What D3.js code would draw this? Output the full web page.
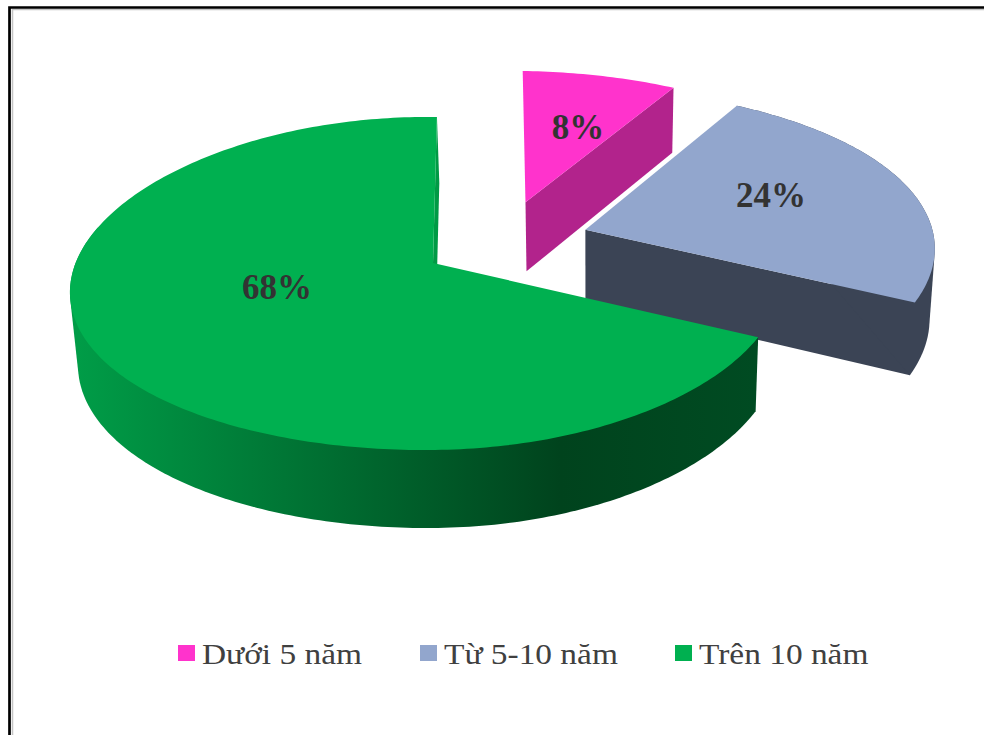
<!DOCTYPE html>
<html>
<head>
<meta charset="utf-8">
<script src="https://cdn.jsdelivr.net/npm/d3@7"></script>
<style>
    html, body { margin: 0; padding: 0; background: #fff; overflow: hidden; }
    svg { display: block; }
</style>
</head>
<body>
<div id="chart"></div>
<script>
const categories = ["Dưới 5 năm", "Từ 5-10 năm", "Trên 10 năm"];
const shares = [8, 24, 68];
const shareLabels = ["8%", "24%", "68%"];
const topColors = ["#ff33cc", "#92a6cd", "#00b050"];
const wallColors = ["#b2238c", "#3b4455", "url(#greenWall)"];

// how far each slice is pulled out, in pie radius units
const explodeX = [0.27, 0.44, 0];
const explodeY = [0.39, 0.21, 0];
const sliceRadius = [0.985, 1.03, 1];
const labelX = [578, 771, 277];
const labelY = [127, 195, 287];
const legendX = [178, 420, 675];

const width = 984, height = 735;

const svg = d3.select("#chart")
    .append("svg")
    .attr("width", width)
    .attr("height", height)
;

const grad = svg.append("defs").append("linearGradient")
    .attr("id", "greenWall")
    .attr("gradientUnits", "userSpaceOnUse")
    .attr("x1", 78).attr("x2", 757)
    .attr("y1", 0).attr("y2", 0)
;
grad.append("stop").attr("offset", 0).attr("stop-color", "#009c47");
grad.append("stop").attr("offset", 0.71).attr("stop-color", "#00431d");
grad.append("stop").attr("offset", 1).attr("stop-color", "#004b22");

// frame, runs off the right and bottom of the page
svg.append("path")
    .attr("d", "M12.5,740V9.5H990")
    .attr("fill", "none").attr("stroke", "#c4c4c4").attr("stroke-width", 1.5);
svg.append("path")
    .attr("d", "M9.5,740V7.5H990")
    .attr("fill", "none").attr("stroke", "#000").attr("stroke-width", 2.7);

// perspective of the pie plane
const cx = 433, cy = 263, rx = 355, ry = 164;
const perspX = 0.08, perspY = 0.123, perspSide = 0.019;

function project(px, py) {
    const sx = 1 / (1 + perspX * py + perspSide * px);
    const sy = 1 / (1 + perspY * py + perspSide * px);
    // left part of the rim hangs a bit lower in the picture
    const sag = px < 0 ? 16 * px * px : 0;
    return [cx + rx * px * sx, cy - ry * py * sy + sag];
}

// bottom face is the top face moved down and squeezed a bit
const bottomX = d3.scaleLinear().domain([70, 917]).range([78, 912]);
const bottomY = d3.scaleLinear().domain([88, 451]).range([153, 529]);
const toBottom = p => [bottomX(p[0]), bottomY(p[1])];

const line = d3.line();

// small turn so the green edge leans like the original
const turn = 0.012;
const pie = d3.pie().sort(null).value(d => d).startAngle(turn).endAngle(2 * Math.PI + turn);
const slices = pie(shares);

function rimPoint(i, a) {
    const r = sliceRadius[i];
    return project(explodeX[i] + r * Math.sin(a), explodeY[i] + r * Math.cos(a));
}

function arcPoints(i, a0, a1) {
    const n = Math.ceil((a1 - a0) * 60);
    return d3.range(n + 1).map(k => rimPoint(i, a0 + (a1 - a0) * k / n));
}

function radialWall(i, angle) {
    const apex = project(explodeX[i], explodeY[i]);
    const rim = rimPoint(i, angle);
    return [apex, rim, toBottom(rim), toBottom(apex)];
}

// hull so the silhouette joins top and bottom rim with a straight side
function outerWall(pts) {
    return line(d3.polygonHull(pts.concat(pts.map(toBottom)))) + "Z";
}

const g = svg.append("g");

slices.forEach((d, i) => {
    const apex = project(explodeX[i], explodeY[i]);
    const color = wallColors[i];

    if (i === 0) {
        g.append("path").attr("d", line(radialWall(i, d.endAngle)) + "Z").attr("fill", color);
    }
    if (i === 1) {
        g.append("path").attr("d", line(radialWall(i, d.endAngle)) + "Z").attr("fill", color);
        g.append("path").attr("d", outerWall(arcPoints(i, d.startAngle, d.endAngle))).attr("fill", color);
    }
    if (i === 2) {
        // thin cut face by the gap, then the front of the rim only
        g.append("path").attr("d", line(radialWall(i, d.endAngle)) + "Z").attr("fill", "#009a45");
        g.append("path").attr("d", outerWall(arcPoints(i, d.startAngle, 1.6 * Math.PI))).attr("fill", color);
    }

    g.append("path")
        .attr("d", line([apex].concat(arcPoints(i, d.startAngle, d.endAngle))) + "Z")
        .attr("fill", topColors[i])
    ;
});

svg.selectAll("text.value")
    .data(shareLabels)
    .enter()
    .append("text")
    .attr("class", "value")
    .attr("x", (d, i) => labelX[i])
    .attr("y", (d, i) => labelY[i])
    .attr("dy", "0.35em")
    .attr("text-anchor", "middle")
    .style("font-family", "'Liberation Serif', serif")
    .style("font-weight", "bold")
    .style("font-size", "35px")
    .style("fill", "#333")
    .text(d => d)
;

const legend = svg.selectAll("g.legend")
    .data(categories)
    .enter()
    .append("g")
    .attr("class", "legend")
    .attr("transform", (d, i) => "translate(" + legendX[i] + ",645)")
;

legend.append("rect")
    .attr("width", 17)
    .attr("height", 16)
    .attr("fill", (d, i) => topColors[i])
;

// legend text is stretched sideways in the original
legend.append("text")
    .attr("transform", "translate(24,19) scale(1.113,1)")
    .style("font-family", "'Liberation Serif', serif")
    .style("font-size", "30px")
    .style("fill", "#404040")
    .text(d => d)
;
</script>
</body>
</html>
